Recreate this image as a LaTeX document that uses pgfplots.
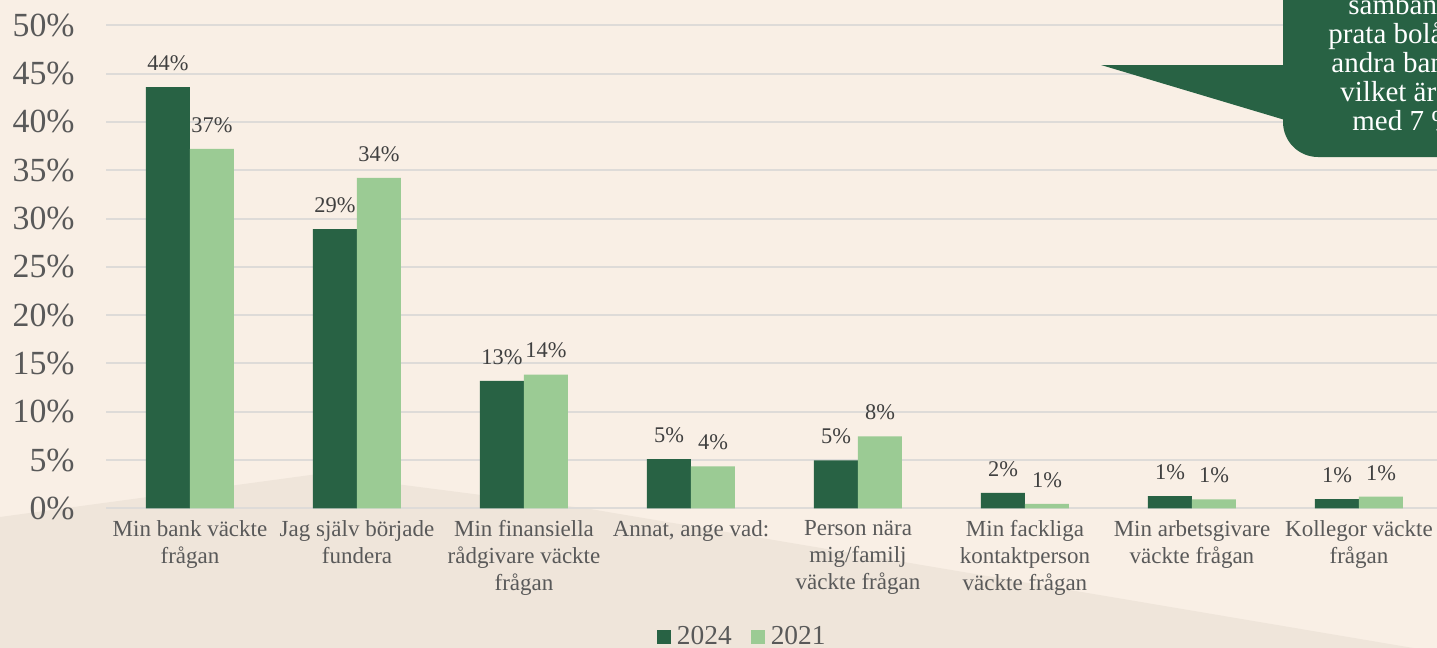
\documentclass[border=0pt]{standalone}
\usepackage{pgfplots}
\pgfplotsset{compat=1.18}
\usepackage{fontspec}
\setmainfont{Liberation Serif}
\definecolor{bg}{HTML}{F9EFE5}
\definecolor{bgdark}{HTML}{EFE5DA}
\definecolor{dgreen}{HTML}{286244}
\definecolor{lgreen}{HTML}{9BCB94}
\definecolor{gridc}{HTML}{DEDBD8}
\definecolor{tickc}{HTML}{595959}
\definecolor{labc}{HTML}{404040}
\begin{document}
\begin{tikzpicture}
\useasboundingbox (0,-324pt) rectangle (718.5pt,0pt);
\clip (0,-324pt) rectangle (718.5pt,0pt);
\begin{scope}[x=0.5pt,y=-0.5pt]
\fill[bg] (-5,-5) rectangle (1445,655);
\fill[bgdark] (0,517) -- (318,474) -- (590,509) -- (1437,652) -- (1445,660) -- (0,660) -- cycle;
\end{scope}
\begin{axis}[
  at={(53.25pt,-254.15pt)}, anchor=south west,
  scale only axis, width=668pt, height=241.5pt,
  xmin=-0.5, xmax=7.5, ymin=0, ymax=50,
  axis line style={draw=none},
  major tick style={draw=none},
  ymajorgrids, major grid style={gridc, line width=1pt},
  ytick={0,5,10,15,20,25,30,35,40,45,50},
  yticklabels={0\%,5\%,10\%,15\%,20\%,25\%,30\%,35\%,40\%,45\%,50\%},
  yticklabel style={anchor=east, inner sep=0pt, xshift=-15.75pt, font=\fontsize{16.9}{18}\selectfont, text=tickc},
  xtick={0,1,2,3,4,5,6,7},
  xticklabels={{Min bank väckte\\frågan},{Jag själv började\\fundera},{Min finansiella\\rådgivare väckte\\frågan},{Annat, ange vad:},{Person nära\\mig/familj\\väckte frågan},{Min fackliga\\kontaktperson\\väckte frågan},{Min arbetsgivare\\väckte frågan},{Kollegor väckte\\frågan}},
  xticklabel style={anchor=north, inner sep=0pt, yshift=-1.5pt, align=center, font=\fontsize{11.5}{13.5}\selectfont, text=tickc},
  ybar=0pt, bar width=22pt,
  nodes near coords={\pgfplotspointmeta\%},
  point meta=explicit symbolic,
  every node near coord/.append style={font=\fontsize{11.2}{12}\selectfont, text=labc, inner sep=0pt, anchor=south, yshift=8pt},
  legend columns=2,
  legend style={draw=none, fill=none, inner sep=0pt, outer sep=0pt, at={(0.41205,-0.2892)}, anchor=south west,
    font=\fontsize{13.7}{14}\selectfont, text=tickc,
    nodes={inner sep=0pt},
    /tikz/every odd column/.append style={column sep=3pt},
    /tikz/every even column/.append style={column sep=9.5pt}},
]
\addplot[fill=dgreen, draw=none,
  legend image code/.code={\fill[dgreen] (0pt,-3.5pt) rectangle (7pt,3.5pt);}] table[meta=l] {
x y l
0 43.6 44
1 28.9 29
2 13.2 13
3 5.1 5
4 4.95 5
5 1.6 2
6 1.25 1
7 0.95 1
};
\addplot[fill=lgreen, draw=none,
  legend image code/.code={\fill[lgreen] (0pt,-3.5pt) rectangle (7pt,3.5pt);}] table[meta=l] {
x y l
0 37.2 37
1 34.2 34
2 13.85 14
3 4.35 4
4 7.45 8
5 0.45 1
6 0.93 1
7 1.2 1
};
\legend{2024,2021}
\end{axis}
\begin{scope}[x=0.5pt,y=-0.5pt]
\fill[dgreen] (1101,65) -- (1285,65) -- (1285,120) -- cycle;
\fill[dgreen, rounded corners=17.5pt] (1283,-60) -- (1283,157) -- (1520,157) -- (1520,-60) -- cycle;
\begin{scope}[every node/.style={anchor=base west, text=white, inner sep=0pt, font=\fontsize{14.5}{14.5}\selectfont}]
\node at (1348,15) {samband};
\node at (1328,43) {prata bolån med};
\node at (1331,72) {andra banker,};
\node at (1340,101) {vilket är en};
\node at (1352,130) {med 7 \%};
\end{scope}
\end{scope}
\end{tikzpicture}
\end{document}
